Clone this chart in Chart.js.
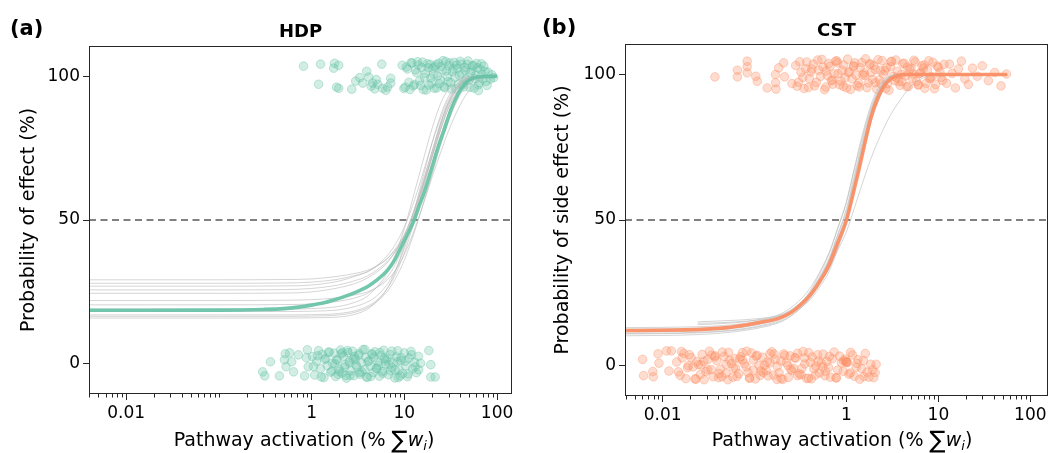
<!DOCTYPE html>
<html><head><meta charset="utf-8">
<script src="https://cdn.jsdelivr.net/npm/chart.js@4.4.1/dist/chart.umd.min.js"></script>
<style>
html,body{margin:0;padding:0;background:#fff;}
#wrap{position:relative;width:1053px;height:453px;overflow:hidden;font-family:"DejaVu Sans",sans-serif;color:#000;}
canvas{position:absolute;top:0;}
.lbl{position:absolute;font-weight:bold;font-size:21px;line-height:25px;white-space:nowrap;}
.xt{position:absolute;font-size:19px;line-height:20px;white-space:nowrap;text-align:center;width:400px;}
.sig{font-size:24px;line-height:0;position:relative;top:2px;}
.xt i{font-style:italic;}
.sb{font-size:13px;line-height:0;position:relative;top:4px;font-style:italic;}
</style></head><body>
<div id="wrap">
<canvas id="c1" width="530" height="453" style="left:0"></canvas>
<canvas id="c2" width="523" height="453" style="left:530px"></canvas>
<div class="lbl" style="left:10px;top:16px">(a)</div>
<div class="lbl" style="left:542px;top:15px">(b)</div>
<div class="xt" style="left:104px;top:429px">Pathway activation (% <span class="sig">∑</span><i>w</i><span class="sb">i</span>)</div>
<div class="xt" style="left:642px;top:429px">Pathway activation (% <span class="sig">∑</span><i>w</i><span class="sb">i</span>)</div>
</div>
<script>
// ---------- tick labels / ranges ----------
const yTicks = [0, 50, 100];
const yTickLabels = ['0', '50', '100'];
const xTickValues = [0.01, 1, 10, 100];
const xTickLabels = ['0.01', '1', '10', '100'];
const yRange = [-10.5, 110.5];
const xRangeA = [0.00398, 145];
const xRangeB = [0.00389, 155];
const threshold = 50;

// ---------- HDP main fitted curve ----------
const hdpCurveX = [0.004,0.01,0.1,0.3,0.5,0.76,1,1.4,1.74,2.5,3.2,4,5,6.6,8,9.2,11,12.8,14.5,16.4,20,23,26.9,32,37.6,43,48.2,55,62,75,100];
const hdpCurveY = [18.6,18.6,18.65,18.9,19.2,19.8,20.4,21.3,22.2,23.9,25.3,26.8,29,32.6,36.5,40.5,45.5,50,55,59.5,68.5,75,81.3,88.5,93.5,96.5,98.3,99.3,99.7,99.9,100];

// ---------- HDP bootstrap curves ----------
const hdpGrayX = [0.004,0.1,0.5,1,2,3,4,5,6.5,8,10,12,14,17,20,25,30,40,50,65,80,100];
const hdpGrayRuns = [
 [29.2,29.2,29.3,29.5,30.5,31.5,32.5,34,36.5,39.5,44,49.5,55,63,70,80,87,95,98.5,99.7,100,100],
 [28,28,28.1,28.4,29.5,30.8,32,33.8,36.5,40,45,51,57,65,72,82,89,96,99,99.8,100,100],
 [25.7,25.7,25.8,26.2,27.5,29,30.5,32.5,35.5,39,44.5,50.5,56.5,65,72.5,82,89,96,99,99.8,100,100],
 [24.5,24.5,24.6,25,26.5,28,29.8,31.8,35,39,44.5,51,57.5,66.5,74,84,90.5,97,99.3,99.9,100,100],
 [18.2,18.2,18.2,18.3,18.8,20,21.5,23.5,27.5,32.5,40,48,55,65,73,84,91,97.5,99.4,99.9,100,100],
 [17,17,17,17.1,17.5,18.5,20,22,26,31,38.5,46.5,54,64,72,83,90,97,99.2,99.9,100,100],
 [15.9,15.9,15.9,16,16.3,17.3,19,21.5,26,32,41,50,58,68.5,77,87,93,98.3,99.6,100,100,100],
 [16.5,16.5,16.5,16.6,17,18,19.5,21.5,25,29.5,36,43,49.5,58.5,66,77,84.5,93.5,97.5,99.4,99.9,100],
 [20.5,20.5,20.6,20.8,21.8,23,24.5,26.5,30,34.5,41.5,49,56,66,74,84.5,91,97.5,99.3,99.9,100,100],
 [22,22,22.1,22.3,23,24,25,26.5,29,32.5,38,44,50,58,65,74,81,90,95,98.5,99.6,100],
 [19,19,19,19.2,20,21.5,23.5,26.5,31.5,38,47,56,64,74,82,91,95.5,99,99.8,100,100,100],
 [27,27,27.1,27.4,28.8,30.5,32,34,37.5,41.5,47.5,54,60.5,69.5,77,86,92,97.5,99.4,99.9,100,100]
];

// ---------- HDP observations (jittered) ----------
const hdpTopX1 = [0.82,1.25,1.73,1.77,1.96,1.19,1.86,1.96,2.71,2.99,3.56,3.93,4.13,4.56,5.17,5.71,5.85,6.31,7.14,7.14,4.4,5.0,3.3,6.6,4.8];
const hdpTopY1 = [103.5,104.2,102.8,104.5,103.8,97.2,96.2,95.8,95.5,98.3,97.6,101.7,99.7,97.6,97.2,104.2,95.8,95.1,99.3,97.6,96.5,98.8,99.5,96.2,95.6];
const hdpTopX2 = [9.5,10.2,10.8,11.5,12.1,12.9,13.6,14.2,15,15.8,16.5,17.3,18.1,19,19.8,20.7,21.5,22.4,23.4,24.5,25.6,26.7,27.9,29,30.3,31.6,33,34.4,36,37.5,39.2,41,42.8,44.7,46.6,48.7,50.8,53,55.4,57.8,60.3,63,66,69,72,76,80,85];
const hdpTopY2 = [103.8,96.2,102.5,95.4,104.6,97.1,101.2,103.9,96.8,104.9,99.6,95.2,102.9,104.1,97.6,100.8,103.3,95.9,104.5,98.7,102.1,96.4,105.1,99.9,103.6,97.8,101.6,104.8,95.6,102.7,100.3,104.2,97.3,103.1,98.9,105.3,96.1,101.9,103.7,99.2,104.4,97.0,102.4,100.6,103.5,98.2,101.4,99.0];
const hdpTopX3 = [9.9,10.5,11.2,11.8,12.5,13.2,13.9,14.6,15.4,16.1,16.9,17.7,18.5,19.4,20.3,21.1,22,22.9,23.9,25,26.1,27.3,28.4,29.6,30.9,32.3,33.7,35.2,36.7,38.3,40.1,41.9,43.7,45.6,47.6,49.7,51.9,54.2,56.6,59,61.6,64.5,67.5,70.5,74,78,88,63,92];
const hdpTopY3 = [95.7,103.2,97.9,104.7,96.6,102.2,105.0,98.4,103.0,95.3,101.0,104.3,96.9,99.4,102.8,95.8,104.0,100.1,97.4,103.4,105.4,96.0,101.8,98.1,104.6,95.5,102.6,99.7,103.9,97.2,105.2,100.9,96.3,102.0,104.1,98.6,101.3,103.6,95.9,100.4,102.9,97.7,104.3,99.1,101.7,96.8,100.5,95.0,99.5];

const hdpBotX1 = [0.297,0.313,0.36,0.45,0.51,0.52,0.53,0.58,0.61,0.64,0.72,0.84,0.9,0.92,0.88,18.4,19.3,19.3,21.5,15,14.3];
const hdpBotY1 = [-2.8,-4.2,0.7,-4.2,1.4,3.5,-1.0,3.8,0.7,-2.8,3.1,-4.2,4.9,-1.0,2.1,4.6,-0.3,-4.6,-4.6,0.2,-2.1];
const hdpBotX2 = [1.02,1.08,1.13,1.19,1.25,1.3,1.36,1.42,1.48,1.55,1.61,1.68,1.75,1.82,1.9,1.97,2.05,2.13,2.2,2.3,2.38,2.47,2.56,2.66,2.76,2.86,2.97,3.08,3.2,3.32,3.45,3.58,3.72,3.86,4.0,4.15,4.31,4.47,4.64,4.82,5.0,5.2,5.4,5.6,5.8,6.0,6.25,6.5,6.75,7.0,7.3,7.6,7.9,8.2,8.5,8.8,9.2,9.6,10,10.4,10.8,11.3,11.8,12.3,12.9,13.5,14.2];
const hdpBotY2 = [2.5,-3.9,0.8,4.6,-1.7,3.3,-4.8,1.9,-0.6,4.1,-2.9,0.2,3.7,-4.4,1.3,-1.9,4.8,-3.2,2.7,-0.3,-5.0,3.9,0.9,-2.4,4.4,-4.1,1.6,-1.1,3.0,-3.6,0.4,4.9,-2.0,2.2,-4.7,1.0,-0.8,3.5,-3.0,4.2,-1.5,0.6,-4.3,2.9,-2.6,4.7,-0.1,1.8,-3.8,3.2,-1.3,0.3,-4.9,2.4,4.5,-2.2,1.1,-3.4,3.8,-0.7,-4.5,2.0,4.3,-1.8,0.5,-3.1,2.6];
const hdpBotX3 = [1.05,1.16,1.27,1.39,1.52,1.65,1.79,1.94,2.09,2.26,2.43,2.61,2.81,3.02,3.25,3.5,3.76,4.05,4.36,4.7,5.05,5.45,5.85,6.3,6.8,7.35,7.95,8.6,9.3,10.2,11.0,12.0,13.1,1.85,2.0,2.15,2.35,2.55,2.9,3.3,3.9,4.5,5.3,6.1,7.1,8.4,9.0];
const hdpBotY3 = [-0.9,2.8,-4.6,1.5,4.0,-2.5,0.0,-3.7,3.4,-1.2,4.6,-4.0,1.7,-0.4,3.6,-2.8,5.0,0.7,-4.4,2.3,-1.6,3.9,-3.3,1.2,-0.2,4.4,-2.1,-4.8,2.1,0.9,-3.5,3.1,-1.0,1.4,-2.7,3.9,-4.1,0.3,2.6,-3.0,-4.6,3.2,-0.5,1.9,-2.4,0.8,-4.2];

// ---------- CST main fitted curve ----------
const cstCurveX = [0.004,0.01,0.0153,0.03,0.05,0.08,0.12,0.183,0.25,0.30,0.36,0.42,0.52,0.634,0.8,1.0,1.15,1.34,1.6,1.86,2.2,2.6,3.06,3.6,4.26,6,10,20,56];
const cstCurveY = [12.0,12.1,12.2,12.5,13.0,13.9,14.9,16.2,18.2,20.2,22.5,24.9,29.2,34,42,50,57.5,66.2,77,85.6,92,96.3,98.6,99.5,100,100,100,100,100];

// ---------- CST bootstrap curves ----------
const cstGrayX = [0.004,0.024,0.05,0.1,0.2,0.3,0.4,0.5,0.65,0.8,1,1.2,1.4,1.7,2,2.5,3,4,5,7,10,20,56];
const cstGrayRuns = [
 [null,15,15.4,16,17.5,20.5,24,28,34,41,49.5,60,69,80,88,95.5,98.8,99.8,100,100,100,100,100],
 [10.8,11.2,11.8,13,15.5,19,23,27.5,34,41.5,50.5,61.5,71,82,90,96.5,99.2,99.9,100,100,100,100,100],
 [11.5,11.9,12.5,13.8,16.5,20.5,25,30,37,45,54,64.5,73.5,84,91,97,99.3,99.9,100,100,100,100,100],
 [13,13.3,13.8,15,17.5,21,25,29.5,36,43,51,61,69.5,79.5,87,94.5,98,99.7,100,100,100,100,100],
 [null,14,14.5,15.5,18,22,26.5,31.5,39,47,56,66.5,75,85,91.5,97,99.3,99.9,100,100,100,100,100],
 [12.5,12.8,13.3,14.5,17,20.5,24,28,33.5,39.5,46,53.5,60,68,74,81,86,92,96,99,100,100,100],
 [11,11.4,12,13.3,16,20,24.5,29.5,36.5,44.5,53,63.5,72.5,83,90.5,96.5,99.2,99.9,100,100,100,100,100],
 [null,14.5,14.8,15.5,17,19.5,22.5,26.5,32.5,40,49,60,69.5,81,89,96,99,99.9,100,100,100,100,100],
 [12,12.3,12.8,14,16.8,20.8,25.5,31,38.5,47,56.5,67,76,86,92.5,97.8,99.5,100,100,100,100,100,100],
 [10.2,10.6,11.3,12.6,15.2,19,23.5,28.5,35.5,43.5,52,62.5,71.5,82.5,90,96.5,99.2,99.9,100,100,100,100,100]
];

// ---------- CST observations (jittered) ----------
const cstTopX1 = [0.037,0.065,0.065,0.083,0.083,0.083,0.103,0.107,0.137,0.169,0.169,0.171,0.183,0.207,0.212,0.255];
const cstTopY1 = [99.2,101.5,99.2,104.6,102.7,100.6,99.4,97.7,95.4,100,97.2,95.0,102.3,104,99.2,96.9];
const cstTopX2 = [0.28,0.30,0.32,0.345,0.37,0.395,0.42,0.45,0.485,0.52,0.555,0.595,0.64,0.685,0.735,0.785,0.84,0.9,0.965,1.03,1.11,1.19,1.27,1.36,1.46,1.56,1.67,1.79,1.92,2.06,2.2,2.36,2.53,2.71,2.9,3.1,3.33,3.57,3.82,4.1,4.38,4.7,5.03,5.4,5.78,6.2,6.63,7.1,7.6,8.15,8.73,9.35,10,10.7,11.5];
const cstTopY2 = [103.1,97.4,100.8,95.2,104.3,98.6,101.9,96.1,105.0,99.3,102.6,95.7,103.8,97.9,100.2,104.7,96.5,101.4,98.9,105.3,94.9,102.9,99.8,97.0,104.1,100.6,95.5,103.4,98.3,101.7,105.1,96.8,100.0,102.3,94.6,104.5,98.0,101.1,96.3,103.7,99.5,95.9,102.1,104.9,97.6,100.4,103.0,95.3,101.6,98.8,104.2,96.6,102.5,99.1,103.5];
const cstTopX3 = [0.29,0.31,0.335,0.36,0.385,0.41,0.435,0.47,0.5,0.54,0.575,0.62,0.66,0.71,0.76,0.81,0.87,0.93,1.0,1.07,1.15,1.23,1.31,1.41,1.51,1.61,1.73,1.85,1.99,2.13,2.28,2.44,2.62,2.8,3.0,3.21,3.45,3.7,3.96,4.24,4.54,4.86,5.2,5.58,6.0,6.4,6.86,7.35,7.87,8.44,9.05,9.7,10.4,11.1];
const cstTopY3 = [96.0,104.4,99.0,102.0,95.6,100.9,103.6,97.3,101.5,105.2,94.8,99.6,102.8,96.7,104.6,100.3,97.8,103.3,95.4,101.0,98.5,104.0,96.2,102.4,99.9,105.4,97.1,100.7,103.1,95.0,98.2,104.8,101.3,96.9,102.7,99.4,105.0,97.5,100.1,103.9,95.8,101.8,98.7,104.3,96.4,100.5,102.2,97.0,104.7,99.2,95.1,102.9,100.8,98.0];
const cstTopX4 = [0.6,0.7,0.8,0.92,1.05,1.2,1.38,1.58,1.8,2.05,2.35,2.68,3.05,3.5,4.0,4.6,5.3,6.1,7.0,8.0,12.3,13.2,14.1,15.3,16.5,17.8,19.4,21.2,23.5,26.5,30,35,41,48,55];
const cstTopY4 = [101.2,98.1,104.0,96.0,100.6,102.9,95.7,99.7,103.8,97.2,101.4,95.2,104.5,99.0,97.6,102.6,100.2,96.5,103.3,98.6,97.0,103.6,100.4,95.4,101.9,104.6,98.5,96.6,102.2,99.4,103.0,97.9,100.7,96.1,100.2];

const cstBotX1 = [0.00605,0.0062,0.0078,0.0079,0.0089,0.0091,0.011,0.0124,0.0117,1.0,1.02,0.98,2.05,2.1,1.98];
const cstBotY1 = [2.1,-3.5,-2.1,-3.9,4.0,0.8,5.0,5.0,-1.9,1.2,1.0,1.4,-2.4,0.4,-4.2];
const cstBotX2 = [0.0142,0.0155,0.017,0.0186,0.0204,0.0224,0.0245,0.0269,0.0295,0.0323,0.0354,0.0388,0.0425,0.0466,0.0511,0.056,0.0614,0.0673,0.0738,0.0809,0.0887,0.0972,0.1066,0.1168,0.128,0.1403,0.1538,0.1686,0.1848,0.2026,0.2221,0.2435,0.2669,0.2926,0.3207,0.3516,0.3854,0.4225,0.4632,0.5077,0.5566,0.6101,0.6689,0.7332,0.8038,0.8811,0.9659,1.059,1.161,1.272,1.395,1.529,1.676,1.837];
const cstBotY2 = [1.2,-3.4,4.1,-0.8,2.7,-4.6,0.3,3.8,-2.1,4.9,-3.9,1.6,-1.3,3.1,-4.9,0.7,2.4,-2.8,4.4,-0.4,-4.3,1.9,3.5,-1.9,0.1,-3.6,4.7,2.1,-2.5,-4.8,1.0,3.3,-1.0,4.2,-3.2,0.5,-4.4,2.9,-0.2,-2.6,3.9,1.4,-4.0,4.6,-1.6,0.9,2.2,-3.0,3.6,-0.6,-4.7,1.7,-2.3,0.4];
const cstBotX3 = [0.0148,0.0163,0.0178,0.0195,0.0214,0.0235,0.0257,0.0282,0.0309,0.0338,0.0371,0.0406,0.0445,0.0488,0.0535,0.0587,0.0643,0.0705,0.0773,0.0847,0.0929,0.1018,0.1116,0.1223,0.134,0.1469,0.1611,0.1766,0.1936,0.2122,0.2326,0.255,0.2795,0.3064,0.3359,0.3682,0.4036,0.4424,0.485,0.5316,0.5828,0.6389,0.7004,0.7677,0.8416,0.9225,1.012,1.109,1.216,1.333,1.461,1.601,1.755,1.92];
const cstBotY3 = [-2.2,2.6,-4.5,3.7,-0.5,1.3,-3.1,-4.9,2.0,-1.4,3.3,-4.2,4.6,-2.7,1.8,-0.9,-3.8,3.0,0.6,-2.4,4.3,-4.6,0.0,2.8,-1.7,4.0,-3.3,-0.3,1.5,3.4,-4.1,-1.8,2.5,-2.9,4.8,-4.5,1.1,-1.2,3.7,0.8,-3.5,-0.7,2.3,-4.3,3.2,-2.0,1.0,4.5,-3.7,2.0,-1.1,4.1,-4.0,-1.5];
const cstBotX4 = [0.026,0.031,0.037,0.044,0.052,0.062,0.074,0.088,0.104,0.124,0.147,0.175,0.208,0.247,0.294,0.349,0.415,0.494,0.587,0.016,0.019,0.023,0.028,0.034,0.041,0.049,0.058,0.069,0.082,0.097,0.115,0.137,0.163,0.194,0.23,0.274,0.326,0.388,0.46,0.55,0.65,0.78,0.93,1.1,1.3,1.55];
const cstBotY4 = [0.2,-1.5,2.9,-3.9,4.5,-0.9,1.9,-4.4,3.2,-2.4,0.9,-4.8,4.0,-1.3,-3.5,2.6,-4.6,1.5,-2.0,4.8,-0.1,-4.7,1.4,3.6,-2.8,0.4,-4.0,2.2,4.9,-1.6,-3.4,1.2,3.9,-4.5,0.0,2.7,-1.0,4.4,-3.3,-0.5,3.1,-4.2,1.6,-2.6,0.7,-3.8];

// ---------- helpers ----------
const zip = (xs, ys) => xs.slice(0, Math.min(xs.length, ys.length)).map((x, i) => ({x: x, y: ys[i]}));
const FONT = 'DejaVu Sans';
Chart.defaults.font.family = FONT;
Chart.defaults.color = '#000';

const framePlugin = {
  id: 'frame',
  afterDraw(chart) {
    const {ctx, chartArea: a} = chart;
    const x = chart.scales.x;
    ctx.save();
    ctx.strokeStyle = '#262626';
    ctx.lineWidth = 1;
    ctx.beginPath();
    const lo = Math.floor(Math.log10(x.min)), hi = Math.ceil(Math.log10(x.max));
    for (let e = lo; e <= hi; e++) {
      for (let m = 1; m <= 9; m++) {
        const v = m * Math.pow(10, e);
        if (v < x.min || v > x.max) continue;
        if (xTickValues.some(t => Math.abs(t - v) / t < 1e-6)) continue;
        const px = Math.round(x.getPixelForValue(v)) + 0.5;
        ctx.moveTo(px, a.bottom);
        ctx.lineTo(px, a.bottom + 3.5);
      }
    }
    ctx.stroke();
    ctx.strokeRect(Math.round(a.left) + 0.5, Math.round(a.top) + 0.5,
                   Math.round(a.right - a.left) - 1, Math.round(a.bottom - a.top) - 1);
    ctx.restore();
  }
};

function makeChart(id, cfg) {
  const rgb = cfg.rgb;
  const datasets = [];
  datasets.push({
    type: 'line', data: zip(cfg.curveX, cfg.curveY), borderColor: `rgba(${rgb},0.92)`,
    borderWidth: 3.6, pointRadius: 0, cubicInterpolationMode: 'monotone', fill: false, order: 0
  });
  cfg.grayRuns.forEach(run => datasets.push({
    type: 'line', data: zip(cfg.grayX, run), borderColor: 'rgba(185,185,185,0.75)',
    borderWidth: 0.8, pointRadius: 0, cubicInterpolationMode: 'monotone', fill: false, spanGaps: false, order: 1
  }));
  datasets.push({
    type: 'line', data: [{x: cfg.xRange[0], y: threshold}, {x: cfg.xRange[1], y: threshold}],
    borderColor: '#808080', borderWidth: 1.8, borderDash: [7, 4.5], pointRadius: 0, fill: false, order: 2
  });
  cfg.points.forEach(p => datasets.push({
    type: 'scatter', data: p, pointRadius: 4.3, pointBorderWidth: 0.9,
    backgroundColor: `rgba(${rgb},0.3)`, borderColor: `rgba(${rgb},0.42)`, order: 3
  }));

  return new Chart(document.getElementById(id), {
    type: 'scatter',
    data: {datasets},
    options: {
      responsive: false, animation: false, events: [],
      layout: {padding: {left: 0, right: cfg.padRight, top: 0, bottom: 0}},
      plugins: {
        legend: {display: false}, tooltip: {enabled: false},
        title: {display: true, text: cfg.title, fullSize: false, color: '#000',
                font: {family: FONT, size: 18, weight: 'bold'},
                padding: {top: cfg.titleTop, bottom: cfg.titleBottom}}
      },
      scales: {
        x: {
          type: 'logarithmic', min: cfg.xRange[0], max: cfg.xRange[1],
          afterBuildTicks: s => { s.ticks = xTickValues.map(v => ({value: v})); },
          afterFit: s => { s.height = cfg.xHeight; s.paddingLeft = 0; s.paddingRight = 0; },
          ticks: {callback: (v, i) => xTickLabels[i], font: {family: FONT, size: 17}, color: '#000',
                  padding: 3, maxRotation: 0, autoSkip: false},
          grid: {display: true, drawOnChartArea: false, drawTicks: true, tickLength: 6, tickWidth: 1, tickColor: '#262626'},
          border: {display: false}
        },
        y: {
          type: 'linear', min: yRange[0], max: yRange[1],
          afterBuildTicks: s => { s.ticks = yTicks.map(v => ({value: v})); },
          afterFit: s => { s.width = cfg.yWidth; s.paddingTop = 0; s.paddingBottom = 0; },
          ticks: {callback: (v, i) => yTickLabels[i], font: {family: FONT, size: 17}, color: '#000', padding: 3},
          grid: {display: true, drawOnChartArea: false, drawTicks: true, tickLength: 6, tickWidth: 1, tickColor: '#262626'},
          border: {display: false},
          title: {display: true, text: cfg.yTitle, color: '#000', font: {family: FONT, size: 19},
                  padding: {top: cfg.yTitlePad, bottom: 0}}
        }
      }
    },
    plugins: [framePlugin]
  });
}

makeChart('c1', {
  title: 'HDP', yTitle: 'Probability of effect (%)', rgb: '102,194,165',
  xRange: xRangeA, curveX: hdpCurveX, curveY: hdpCurveY, grayX: hdpGrayX, grayRuns: hdpGrayRuns,
  points: [zip(hdpTopX1, hdpTopY1), zip(hdpTopX2, hdpTopY2), zip(hdpTopX3, hdpTopY3),
           zip(hdpBotX1, hdpBotY1), zip(hdpBotX2, hdpBotY2), zip(hdpBotX3, hdpBotY3)],
  padRight: 18, yWidth: 89, xHeight: 59, titleTop: 22, titleBottom: 2.4, yTitlePad: 17.6
});
makeChart('c2', {
  title: 'CST', yTitle: 'Probability of side effect (%)', rgb: '252,141,98',
  xRange: xRangeB, curveX: cstCurveX, curveY: cstCurveY, grayX: cstGrayX, grayRuns: cstGrayRuns,
  points: [zip(cstTopX1, cstTopY1), zip(cstTopX2, cstTopY2), zip(cstTopX3, cstTopY3), zip(cstTopX4, cstTopY4),
           zip(cstBotX1, cstBotY1), zip(cstBotX2, cstBotY2), zip(cstBotX3, cstBotY3), zip(cstBotX4, cstBotY4)],
  padRight: 0, yWidth: 95, xHeight: 57, titleTop: 20.4, titleBottom: 2, yTitlePad: 22
});
</script>
</body></html>
